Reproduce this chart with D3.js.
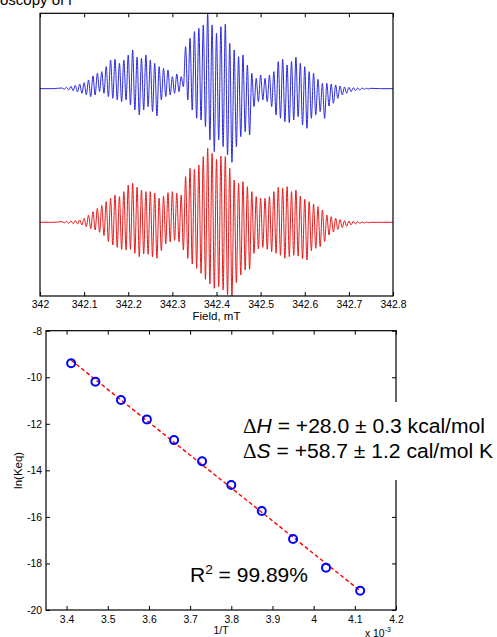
<!DOCTYPE html>
<html><head><meta charset="utf-8">
<script src="https://cdn.jsdelivr.net/npm/d3@7"></script>
<style>
html,body{margin:0;padding:0;background:#fff;}
svg{display:block;font-family:"Liberation Sans",Arial,Helvetica,sans-serif;}
</style></head>
<body>
<svg id="chart" width="497" height="637"></svg>
<script>
// ---------- DATA ----------
// EPR spectra: fields (mT) of oscillation maxima start at spectrumStart, step spectrumStep;
// minima lie half a step later.
const spectrumStart = 342.05, spectrumStep = 0.01;
const blueTop = [0.2,0.4,0.7,1.0,1.4,1.8,2.6,3.8,4.6,5.1,
 6.6,8.6,8.8,7.6,8.6,10.1,11.6,9.4,9.1,10.1,
 8.6,7.6,6.6,6.1,5.6,3.6,4.4,3.6,12.6,15.1,
 17.1,18.1,19.1,22.8,19.1,16.6,18.6,19.4,13.6,11.6,
 9.6,10.1,7.1,4.6,3.1,4.1,3.1,4.1,5.1,8.1,
 8.8,7.1,8.1,9.4,7.6,6.6,5.1,4.6,2.8,1.6,
 1.6,1.4,1.1,0.8,0.5,0.4,0.3,0.2,0.2,0.1,0.1];
const blueBottom = [-0.2,-0.4,-0.6,-1.0,-1.4,-1.8,-2.4,-1.9,-0.9,-1.4,
 -2.4,-2.9,-3.4,-3.9,-3.4,-4.9,-6.4,-7.9,-6.4,-5.4,
 -6.9,-8.2,-3.4,-2.4,-1.9,-1.4,-0.9,0.6,-3.4,-6.4,
 -8.9,-9.4,-11.4,-15.4,-18.9,-15.4,-17.4,-19.9,-22.1,-17.4,
 -14.4,-12.9,-13.9,-5.4,-3.9,-3.4,-3.9,-5.4,-7.9,-8.9,
 -9.9,-10.2,-9.4,-8.4,-10.9,-11.9,-8.9,-7.9,-6.9,-8.9,
 -5.2,-4.4,-2.9,-1.9,-1.4,-0.9,-0.6,-0.4,-0.2,-0.1];
const redTop = [0.2,0.3,0.4,0.5,0.7,1.2,2.2,3.2,4.2,5.0,
 6.2,7.2,8.2,7.7,9.2,11.2,11.7,10.5,9.7,9.2,
 9.2,8.7,7.2,7.9,8.9,9.2,8.7,8.2,13.7,16.2,
 15.9,17.2,19.7,22.2,20.7,18.9,19.9,19.7,16.2,12.7,
 11.7,12.2,10.7,9.2,7.7,7.2,7.2,7.7,9.2,10.5,
 10.2,10.7,9.2,9.7,7.9,6.9,6.2,5.5,4.7,3.7,
 2.2,1.7,1.2,0.8,0.5,0.4,0.3,0.2,0.1,0.1,0.0];
const redBottom = [-0.2,-0.3,-0.4,-0.5,-0.8,-1.3,-1.9,-2.3,-3.0,-4.0,
 -5.8,-6.8,-7.5,-8.1,-8.3,-8.1,-9.3,-10.3,-9.5,-9.6,
 -10.3,-10.8,-8.5,-6.5,-5.9,-5.4,-5.8,-8.3,-10.8,-12.5,
 -13.8,-15.3,-17.1,-18.5,-19.8,-19.3,-20.3,-21.8,-22.5,-18.1,
 -15.8,-14.3,-14.1,-9.3,-8.0,-7.5,-8.1,-8.8,-9.3,-9.9,
 -10.8,-10.3,-9.9,-10.1,-10.9,-11.3,-8.5,-7.8,-7.3,-5.8,
 -3.8,-2.9,-2.1,-1.6,-1.2,-0.8,-0.5,-0.3,-0.2,-0.1];
const fieldTicks = [342, 342.1, 342.2, 342.3, 342.4, 342.5, 342.6, 342.7, 342.8];

// Van't Hoff data
const invT = [3.411, 3.470, 3.532, 3.595, 3.661, 3.729, 3.800, 3.874, 3.950, 4.030, 4.113];
const lnKeq = [-9.40, -10.19, -10.98, -11.81, -12.70, -13.61, -14.63, -15.75, -16.95, -18.18, -19.17];
const invTTicks = [3.4, 3.5, 3.6, 3.7, 3.8, 3.9, 4.0, 4.1, 4.2];
const lnTicks = [-8, -10, -12, -14, -16, -18, -20];

// ---------- LAYOUT ----------
const svg = d3.select("#chart");
const P1 = {l: 40, r: 393, t: 13.3, b: 296};
const P2 = {l: 46, r: 396, t: 330.7, b: 610};
const redOffset = -40.1;
const tick = 4;

svg.append("text").attr("x", 0).attr("y", 4.5).attr("font-size", 15).text("oscopy of r");

// ---------- TOP PANEL ----------
const x1 = d3.scaleLinear().domain([342, 342.8]).range([P1.l, P1.r]);
const y1 = d3.scaleLinear().domain([-62.2, 22.6]).range([P1.b, P1.t]);

function spectrum(top, bottom, off) {
  const pts = [[342.0, off], [spectrumStart - 0.02, off]];
  for (let k = 0; k < top.length; k++) {
    pts.push([spectrumStart + k * spectrumStep, top[k] + off]);
    if (k < bottom.length) pts.push([spectrumStart + (k + 0.5) * spectrumStep, bottom[k] + off]);
  }
  pts.push([spectrumStart + (top.length - 1) * spectrumStep + 0.02, off], [342.8, off]);
  return pts;
}
svg.append("clipPath").attr("id", "clip1").append("rect")
  .attr("x", P1.l).attr("y", P1.t).attr("width", P1.r - P1.l).attr("height", P1.b - P1.t);
const line1 = d3.line().x(d => x1(d[0])).y(d => y1(d[1])).curve(d3.curveMonotoneX);
const g1 = svg.append("g").attr("clip-path", "url(#clip1)");
g1.append("path").datum(spectrum(blueTop, blueBottom, 0)).attr("d", line1)
  .attr("fill", "none").attr("stroke", "#2a2ae0").attr("stroke-width", 1);
g1.append("path").datum(spectrum(redTop, redBottom, redOffset)).attr("d", line1)
  .attr("fill", "none").attr("stroke", "#e81a1a").attr("stroke-width", 1);

const ax1b = svg.append("g").attr("transform", `translate(0,${P1.b})`)
  .call(d3.axisBottom(x1).tickValues(fieldTicks).tickFormat(d => String(d)).tickSize(-tick).tickSizeOuter(0).tickPadding(5));
const ax1t = svg.append("g").attr("transform", `translate(0,${P1.t})`)
  .call(d3.axisTop(x1).tickValues(fieldTicks).tickFormat("").tickSize(-tick).tickSizeOuter(0));
[ax1b, ax1t].forEach(a => { a.select(".domain").remove(); a.selectAll("text").attr("font-size", 10.4).attr("font-family", "Liberation Sans, Arial"); });
svg.append("rect").attr("x", P1.l).attr("y", P1.t).attr("width", P1.r - P1.l).attr("height", P1.b - P1.t)
  .attr("fill", "none").attr("stroke", "#000").attr("stroke-width", 1.2);
svg.append("text").attr("x", (P1.l + P1.r) / 2).attr("y", 319.5).attr("text-anchor", "middle")
  .attr("font-size", 11.5).text("Field, mT");

// ---------- BOTTOM PANEL ----------
const x2 = d3.scaleLinear().domain([3.35, 4.2]).range([P2.l, P2.r]);
const y2 = d3.scaleLinear().domain([-20, -8]).range([P2.b, P2.t]);
const ax2b = svg.append("g").attr("transform", `translate(0,${P2.b})`)
  .call(d3.axisBottom(x2).tickValues(invTTicks).tickFormat(d => String(d)).tickSize(-tick).tickSizeOuter(0).tickPadding(6));
const ax2t = svg.append("g").attr("transform", `translate(0,${P2.t})`)
  .call(d3.axisTop(x2).tickValues(invTTicks).tickFormat("").tickSize(-tick).tickSizeOuter(0));
const ax2l = svg.append("g").attr("transform", `translate(${P2.l},0)`)
  .call(d3.axisLeft(y2).tickValues(lnTicks).tickFormat(d => String(d)).tickSize(-tick).tickSizeOuter(0).tickPadding(4));
const ax2r = svg.append("g").attr("transform", `translate(${P2.r},0)`)
  .call(d3.axisRight(y2).tickValues(lnTicks).tickFormat("").tickSize(-tick).tickSizeOuter(0));
[ax2b, ax2t, ax2l, ax2r].forEach(a => { a.select(".domain").remove(); a.selectAll("text").attr("font-size", 10.4).attr("font-family", "Liberation Sans, Arial"); });
svg.append("rect").attr("x", P2.l).attr("y", P2.t).attr("width", P2.r - P2.l).attr("height", P2.b - P2.t)
  .attr("fill", "none").attr("stroke", "#000").attr("stroke-width", 1.2);

// linear fit
const mx = d3.mean(invT), my = d3.mean(lnKeq);
const slope = d3.sum(invT.map((v, i) => (v - mx) * (lnKeq[i] - my))) / d3.sum(invT.map(v => (v - mx) ** 2));
const icpt = my - slope * mx;
const ext = d3.extent(invT);
svg.append("path").datum(ext.map(v => [v, icpt + slope * v]))
  .attr("d", d3.line().x(d => x2(d[0])).y(d => y2(d[1])))
  .attr("fill", "none").attr("stroke", "#ff0000").attr("stroke-width", 1.4).attr("stroke-dasharray", "4,2.5");
svg.append("g").selectAll("circle").data(invT).join("circle")
  .attr("cx", d => x2(d)).attr("cy", (d, i) => y2(lnKeq[i])).attr("r", 4)
  .attr("fill", "none").attr("stroke", "#0000ff").attr("stroke-width", 2);

// annotation with white background
svg.append("rect").attr("x", 238).attr("y", 402).attr("width", 259).attr("height", 78).attr("fill", "#fff");
const ann = svg.append("g").attr("font-size", 18.5).attr("font-family", "Liberation Sans, Arial");
const t1 = ann.append("text").attr("x", 243).attr("y", 433);
t1.append("tspan").attr("font-family", "Liberation Serif, Times New Roman").text("Δ");
t1.append("tspan").attr("font-style", "italic").text("H");
t1.append("tspan").text(" = +28.0 ± 0.3 kcal/mol");
const t2 = ann.append("text").attr("x", 243).attr("y", 458);
t2.append("tspan").attr("font-family", "Liberation Serif, Times New Roman").text("Δ");
t2.append("tspan").attr("font-style", "italic").text("S");
t2.append("tspan").text(" = +58.7 ± 1.2 cal/mol K");
const t3 = ann.append("text").attr("x", 190).attr("y", 582).attr("font-size", 18.5);
t3.append("tspan").text("R");
t3.append("tspan").attr("font-size", 12).attr("dy", -7.5).text("2");
t3.append("tspan").attr("dy", 7.5).text(" = 99.89%");
// scale font sizes so text widths match the reference
{
  const w1 = t1.node().getComputedTextLength();
  const fs = Math.max(15, Math.min(23, 18.5 * 242 / w1));
  ann.attr("font-size", fs);
  const w2 = t2.node().getComputedTextLength();
  if (243 + w2 > 496) t2.attr("font-size", fs * (496 - 243) / w2);
  const w3 = t3.node().getComputedTextLength();
  const f3 = Math.max(15, Math.min(23, 18.5 * 118 / w3));
  t3.attr("font-size", f3);
  t3.select("tspan:nth-child(2)").attr("font-size", f3 * 0.65).attr("dy", -f3 * 0.4);
  t3.select("tspan:nth-child(3)").attr("dy", f3 * 0.4);
}

svg.append("text").attr("x", (P2.l + P2.r) / 2).attr("y", 634).attr("text-anchor", "middle")
  .attr("font-size", 10.4).text("1/T");
svg.append("text").attr("transform", `translate(21.5,${(P2.t + P2.b) / 2}) rotate(-90)`)
  .attr("text-anchor", "middle").attr("font-size", 11.5).text("ln(Keq)");
const ex = svg.append("text").attr("x", 365).attr("y", 636.5).attr("font-size", 10.4);
ex.append("tspan").text("x 10");
ex.append("tspan").attr("font-size", 7).attr("dy", -5).text("-3");
</script>
</body></html>
